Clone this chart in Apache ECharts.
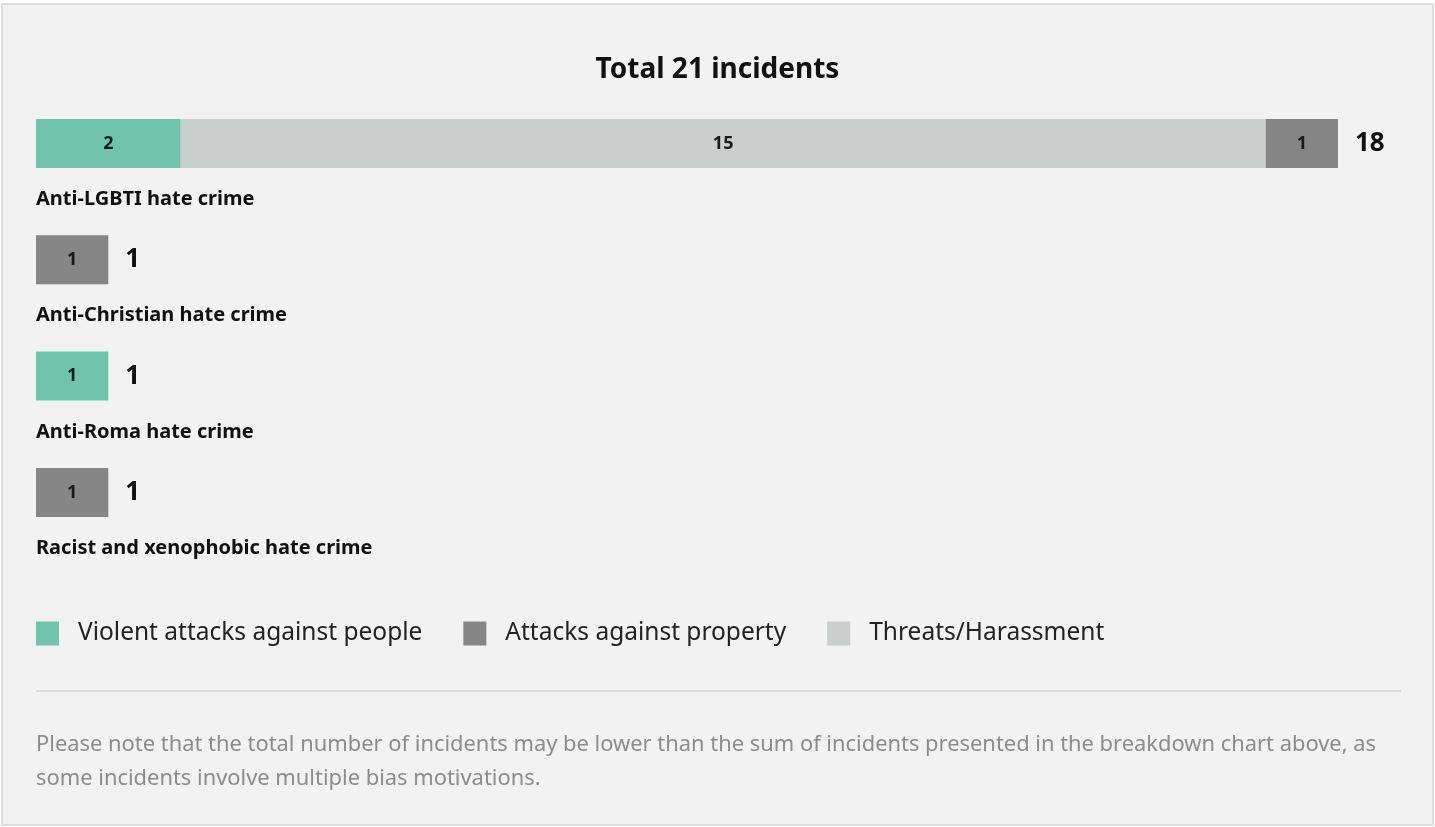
<!DOCTYPE html>
<html>
<head>
<meta charset="utf-8">
<script src="https://cdn.jsdelivr.net/npm/echarts@6/dist/echarts.min.js"></script>
<style>
html,body{margin:0;padding:0;background:#fff;}
#chart{width:1435px;height:827px;}
</style>
</head>
<body>
<div id="chart"></div>
<script>
const totalIncidents = 21;
const categories = ['Anti-LGBTI hate crime', 'Anti-Christian hate crime', 'Anti-Roma hate crime', 'Racist and xenophobic hate crime'];
const violent = [2, null, 1, null];
const threats = [15, null, null, null];
const property = [1, 1, null, 1];
const seriesNames = ['Violent attacks against people', 'Attacks against property', 'Threats/Harassment'];
const noteText = 'Please note that the total number of incidents may be lower than the sum of incidents presented in the breakdown chart above, as\nsome incidents involve multiple bias motivations.';

const totals = categories.map((c, i) => (violent[i] || 0) + (threats[i] || 0) + (property[i] || 0));
const FONT = '"Noto Sans", sans-serif';
const colors = { violent: '#6fc4ac', property: '#868686', threats: '#cacfcd' };

const innerLabel = {
  show: true, position: 'inside', color: '#1a1a1a', fontFamily: FONT,
  fontWeight: 'bold', fontSize: 18,
  formatter: p => (p.value == null ? '' : p.value)
};

const chart = echarts.init(document.getElementById('chart'), null, { renderer: 'canvas' });
chart.setOption({
  backgroundColor: '#ffffff',
  animation: false,
  graphic: [
    { type: 'rect', z: -10, silent: true, shape: { x: 2, y: 4, width: 1431, height: 821 },
      style: { fill: '#f2f2f2', stroke: '#dedede', lineWidth: 2 } },
    { type: 'line', silent: true, shape: { x1: 36, y1: 691, x2: 1401, y2: 691 },
      style: { stroke: '#dcdcdc', lineWidth: 2 } },
    { type: 'text', silent: true, left: 36, top: 728,
      style: { text: noteText, fill: '#8c8c8c', fontFamily: FONT, fontSize: 21.9, lineHeight: 34 } }
  ],
  title: {
    text: 'Total ' + totalIncidents + ' incidents',
    left: 'center', top: 51,
    textStyle: { fontFamily: FONT, fontWeight: 'bold', fontSize: 28, color: '#111' }
  },
  legend: {
    data: seriesNames,
    left: 31, top: 616,
    icon: 'rect', itemWidth: 23, itemHeight: 24, itemGap: 41,
    textStyle: { fontFamily: FONT, fontSize: 24.5, color: '#222', padding: [0, 0, 0, 14] }
  },
  grid: { left: 36, top: 85.3, width: 1302, height: 465.3, containLabel: false },
  xAxis: { type: 'value', min: 0, max: Math.max(...totals), show: false },
  yAxis: {
    type: 'category', data: categories, inverse: true,
    axisLine: { show: false }, axisTick: { show: false }, splitLine: { show: false },
    axisLabel: {
      inside: true, align: 'left', verticalAlign: 'top', margin: 0,
      padding: [45, 0, 0, 0], lineHeight: 22,
      fontFamily: FONT, fontWeight: 'bold', fontSize: 20, color: '#111'
    }
  },
  series: [
    { name: seriesNames[0], type: 'bar', stack: 'a', barWidth: 49, data: violent,
      itemStyle: { color: colors.violent }, label: innerLabel },
    { name: seriesNames[2], type: 'bar', stack: 'a', barWidth: 49, data: threats,
      itemStyle: { color: colors.threats }, label: innerLabel },
    { name: seriesNames[1], type: 'bar', stack: 'a', barWidth: 49, data: property,
      itemStyle: { color: colors.property }, label: innerLabel },
    { name: 'Total', type: 'bar', stack: 'a', barWidth: 49, data: totals.map(() => 0),
      itemStyle: { color: 'transparent' }, silent: true,
      label: { show: true, position: 'right', distance: 17, color: '#111', fontFamily: FONT,
        fontWeight: 'bold', fontSize: 26, formatter: p => totals[p.dataIndex] } }
  ]
});
</script>
</body>
</html>
